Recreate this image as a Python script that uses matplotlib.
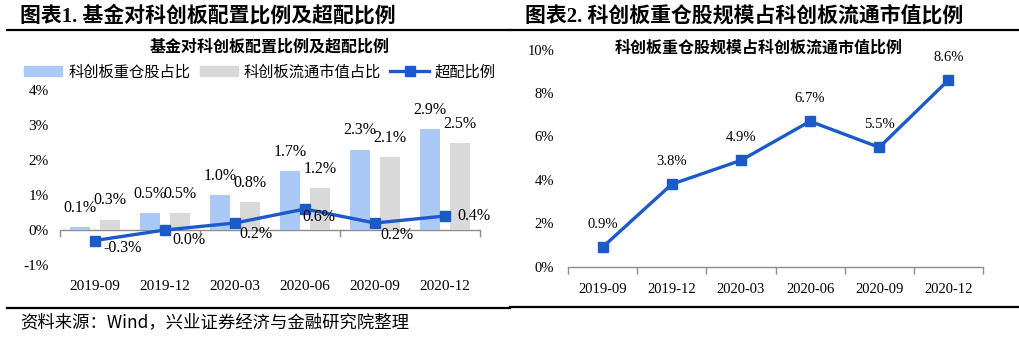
import matplotlib
matplotlib.use("Agg")
import matplotlib.pyplot as plt
import numpy as np
from matplotlib.lines import Line2D
from matplotlib.patches import Patch

# ---- data ----
quarters = ["2019-09", "2019-12", "2020-03", "2020-06", "2020-09", "2020-12"]
heavy_share = [0.1, 0.5, 1.0, 1.7, 2.3, 2.9]        # 科创板重仓股占比
float_share = [0.3, 0.5, 0.8, 1.2, 2.1, 2.5]        # 科创板流通市值占比
over_ratio = [-0.3, 0.0, 0.2, 0.6, 0.2, 0.4]        # 超配比例
scale_ratio = [0.9, 3.8, 4.9, 6.7, 5.5, 8.6]        # 重仓股规模占流通市值比例

# ---- style ----
SERIF = ["Liberation Serif", "Noto Sans CJK SC"]
CJK = ["Noto Sans CJK SC", "DejaVu Sans"]
BLUE_BAR = "#abc9f6"
GRAY_BAR = "#d9d9d9"
LINE_BLUE = "#1a5bc9"
AXIS_GRAY = "#8c8c8c"

W, H = 1020, 338
fig = plt.figure(figsize=(W / 100, H / 100), dpi=100)


def fx(px):
    return px / W


def fy(py):
    return 1 - py / H


def pct(v):
    return "{:.1f}%".format(v)


# ---- header / footer rules ----
for x0, x1, y in [(7, 510, 30), (510, 1020, 30), (7, 510, 308), (510, 1020, 307)]:
    fig.add_artist(Line2D([fx(x0), fx(x1)], [fy(y), fy(y)], color="black", lw=1.6))

fig.text(fx(20), fy(16), "图表1. 基金对科创板配置比例及超配比例", family=SERIF,
         weight="bold", fontsize=15, va="center", ha="left")
fig.text(fx(525), fy(16), "图表2. 科创板重仓股规模占科创板流通市值比例", family=SERIF,
         weight="bold", fontsize=15, va="center", ha="left")
fig.text(fx(20), fy(322), "资料来源：Wind，兴业证券经济与金融研究院整理", family=CJK,
         fontsize=12.5, va="center", ha="left")

# ================= left chart =================
ax1 = fig.add_axes([fx(60), fy(265), fx(480) - fx(60), fy(90) - fy(265)])
x = np.arange(len(quarters))
bw = 0.286
off = 0.214
ax1.bar(x - off, heavy_share, bw, color=BLUE_BAR, zorder=2)
ax1.bar(x + off, float_share, bw, color=GRAY_BAR, zorder=2)
ax1.plot(x, over_ratio, color=LINE_BLUE, lw=2.4, marker="s", ms=6.5, zorder=4)

for xi, v in zip(x, heavy_share):
    ax1.annotate(pct(v), (xi - off, v), xytext=(0, 19), textcoords="offset pixels",
                 ha="center", va="center", family=SERIF, fontsize=11.5)
for xi, v in zip(x, float_share):
    ax1.annotate(pct(v), (xi + off, v), xytext=(0, 19), textcoords="offset pixels",
                 ha="center", va="center", family=SERIF, fontsize=11.5)
line_offsets = [(28, -7), (24, -10), (21, -11), (14, -8), (22, -12), (29, 0)]
for xi, v, (dx, dy) in zip(x, over_ratio, line_offsets):
    ax1.annotate(pct(v), (xi, v), xytext=(dx, dy), textcoords="offset pixels",
                 ha="center", va="center", family=SERIF, fontsize=11.5, zorder=5)

ax1.set_xlim(-0.5, len(quarters) - 0.5)
ax1.set_ylim(-1, 4)
ax1.set_yticks(range(-1, 5))
ax1.set_yticklabels([f"{t}%" for t in range(-1, 5)], family=SERIF, fontsize=11)
ax1.set_xticks(x)
ax1.set_xticklabels(quarters, family=SERIF, fontsize=11)
ax1.tick_params(axis="both", length=0)
ax1.tick_params(axis="x", pad=11)
ax1.tick_params(axis="y", pad=8)
for s in ax1.spines.values():
    s.set_visible(False)

# zero axis with ticks every two categories
sec = ax1.secondary_xaxis(0.2)
sec.set_xticks(np.arange(-0.5, len(quarters), 2))
sec.set_xticklabels([])
sec.tick_params(axis="x", length=5, width=1, color=AXIS_GRAY, direction="out")
sec.spines["bottom"].set_color(AXIS_GRAY)
sec.spines["bottom"].set_linewidth(1)

fig.text(fx(270), fy(47), "基金对科创板配置比例及超配比例", family=CJK, weight="bold",
         fontsize=11.5, ha="center", va="center")

handles = [Patch(color=BLUE_BAR), Patch(color=GRAY_BAR),
           Line2D([], [], color=LINE_BLUE, lw=2.4, marker="s", ms=6.5)]
labels = ["科创板重仓股占比", "科创板流通市值占比", "超配比例"]
fig.legend(handles, labels, loc="center", bbox_to_anchor=(fx(260), fy(72)), ncol=3,
           frameon=False, prop={"family": CJK, "size": 11}, handlelength=2.5,
           handleheight=0.65, handletextpad=0.4, columnspacing=0.6, borderpad=0)

# ================= right chart =================
ax2 = fig.add_axes([fx(568), fy(266.7), fx(983) - fx(568), fy(49.7) - fy(266.7)])
ax2.plot(x, scale_ratio, color=LINE_BLUE, lw=2.4, marker="s", ms=7, zorder=3)
for xi, v in zip(x, scale_ratio):
    ax2.annotate(pct(v), (xi, v), xytext=(0, 23), textcoords="offset pixels",
                 ha="center", va="center", family=SERIF, fontsize=10.5)

ax2.set_xlim(-0.5, len(quarters) - 0.5)
ax2.set_ylim(0, 10)
ax2.set_yticks(range(0, 11, 2))
ax2.set_yticklabels([f"{t}%" for t in range(0, 11, 2)], family=SERIF, fontsize=10.5)
ax2.set_xticks(x)
ax2.set_xticklabels(quarters, family=SERIF, fontsize=10.5)
ax2.set_xticks(np.arange(-0.5, len(quarters), 1), minor=True)
ax2.tick_params(axis="both", which="major", length=0)
ax2.tick_params(axis="x", which="major", pad=12)
ax2.tick_params(axis="y", pad=10)
ax2.tick_params(axis="x", which="minor", length=5, width=1, color=AXIS_GRAY)
for name, s in ax2.spines.items():
    s.set_visible(name == "bottom")
ax2.spines["bottom"].set_color(AXIS_GRAY)
ax2.spines["bottom"].set_linewidth(1)

fig.text(fx(759), fy(48), "科创板重仓股规模占科创板流通市值比例", family=CJK, weight="bold",
         fontsize=11.5, ha="center", va="center")

fig.savefig("out.png", dpi=100)
